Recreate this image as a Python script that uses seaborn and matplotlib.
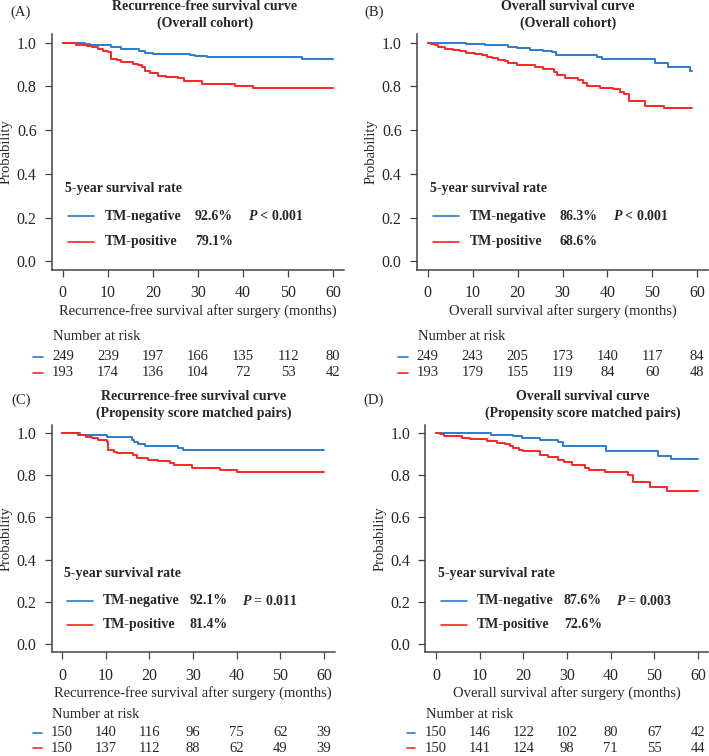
import numpy as np
import pandas as pd
import matplotlib
matplotlib.use("Agg")
import matplotlib.pyplot as plt
import matplotlib.transforms as mtrans
import seaborn as sb

# ---- step points (months, survival probability)
# (A) recurrence-free survival, overall cohort
a_neg_t = [0, 3.5, 4.9, 6, 10.8, 13, 17, 18.2, 20, 28.2, 29.3, 32, 53, 60]
a_neg_s = [1.0, 0.997, 0.994, 0.988, 0.979, 0.973, 0.964, 0.955, 0.949, 0.945, 0.939, 0.934, 0.926, 0.926]
a_pos_t = [0, 3, 5.3, 6.4, 7.9, 9, 10, 10.8, 12, 13, 15.6, 16.7, 17.5, 18.2, 19.3, 21.2, 23, 25.6, 27, 30.8, 38.2, 42.3, 60]
a_pos_s = [1.0, 0.991, 0.987, 0.979, 0.972, 0.964, 0.957, 0.924, 0.919, 0.912, 0.904, 0.897, 0.887, 0.870, 0.863, 0.849, 0.842, 0.837, 0.825, 0.813, 0.803, 0.791, 0.791]

# (B) overall survival, overall cohort
b_neg_t = [0, 8.6, 12.7, 17.9, 19.8, 22.8, 25.7, 27.6, 28.5, 37.6, 38.7, 50.6, 53.6, 58.4, 58.8]
b_neg_s = [1.0, 0.994, 0.988, 0.980, 0.975, 0.969, 0.963, 0.957, 0.945, 0.935, 0.925, 0.908, 0.889, 0.871, 0.871]
b_pos_t = [0, 0.8, 1.6, 2.3, 3.8, 5.7, 7.1, 8.6, 10.5, 12, 13.1, 14.2, 15.7, 17.2, 17.9, 19.8, 23.9, 25.7,
           28, 28.7, 30.6, 33.5, 34.6, 35.4, 38.4, 41.3, 42.8, 43.6, 44.7, 48.4, 52.5, 58.8]
b_pos_s = [1.0, 0.995, 0.988, 0.980, 0.972, 0.965, 0.960, 0.954, 0.948, 0.942, 0.937, 0.931, 0.923, 0.915, 0.908, 0.900,
           0.891, 0.880, 0.865, 0.852, 0.840, 0.831, 0.818, 0.803, 0.795, 0.788, 0.775, 0.765, 0.734, 0.711, 0.700, 0.700]

# (C) recurrence-free survival, matched pairs
c_neg_t = [0, 4.2, 10.2, 16, 16.5, 17.5, 19, 26.6, 27.6, 60]
c_neg_s = [1.0, 0.993, 0.979, 0.968, 0.957, 0.947, 0.939, 0.931, 0.921, 0.921]
c_pos_t = [0, 3.7, 5.6, 6.8, 8.3, 10.2, 10.6, 11.8, 12.5, 16.3, 17.1, 19.8, 22, 24.7, 25.7, 29.7, 36.2, 40, 60]
c_pos_s = [1.0, 0.991, 0.983, 0.975, 0.967, 0.959, 0.920, 0.912, 0.905, 0.897, 0.883, 0.873, 0.866, 0.858, 0.847, 0.836, 0.825, 0.814, 0.814]

# (D) overall survival, matched pairs
d_neg_t = [0, 12.7, 17.7, 19.6, 23.8, 28, 29, 38.9, 50.9, 53.7, 60]
d_neg_s = [1.0, 0.992, 0.984, 0.975, 0.967, 0.959, 0.938, 0.917, 0.889, 0.876, 0.876]
d_pos_t = [0, 0.9, 1.8, 5.9, 7.8, 11.6, 13.9, 15.8, 16.9, 17.7, 18.9, 20, 23.8, 25.7, 28, 29.2, 31.1, 34.1, 35.1, 38.7, 44, 45, 49, 53, 60]
d_pos_s = [1.0, 0.994, 0.986, 0.978, 0.970, 0.963, 0.955, 0.947, 0.938, 0.928, 0.920, 0.913, 0.897, 0.886, 0.873, 0.863,
           0.847, 0.836, 0.827, 0.813, 0.800, 0.766, 0.742, 0.726, 0.726]

# ---- number at risk
risk_times = [0, 10, 20, 30, 40, 50, 60]
a_risk_neg = [249, 239, 197, 166, 135, 112, 80]
a_risk_pos = [193, 174, 136, 104, 72, 53, 42]
b_risk_neg = [249, 243, 205, 173, 140, 117, 84]
b_risk_pos = [193, 179, 155, 119, 84, 60, 48]
c_risk_neg = [150, 140, 116, 96, 75, 62, 39]
c_risk_pos = [150, 137, 112, 88, 62, 49, 39]
d_risk_neg = [150, 146, 122, 102, 80, 67, 42]
d_risk_pos = [150, 141, 124, 98, 71, 55, 44]

# ---- text
titles = ["Recurrence-free survival curve\n(Overall cohort)",
          "Overall survival curve\n(Overall cohort)",
          "Recurrence-free survival curve\n(Propensity score matched pairs)",
          "Overall survival curve\n(Propensity score matched pairs)"]
panel_tags = ["(A)", "(B)", "(C)", "(D)"]
xlabels = ["Recurrence-free survival after surgery (months)",
           "Overall survival after surgery (months)",
           "Recurrence-free survival after surgery (months)",
           "Overall survival after surgery (months)"]
rate_neg = ["92.6%", "86.3%", "92.1%", "87.6%"]
rate_pos = ["79.1%", "68.6%", "81.4%", "72.6%"]
p_texts = [r"$\mathbfit{P}$ < 0.001", r"$\mathbfit{P}$ < 0.001", r"$\mathbfit{P}$ = 0.011", r"$\mathbfit{P}$ = 0.003"]

BLUE = "#2b7bcf"
RED = "#ff2424"

W, H = 709, 756

sb.set_style("ticks")
plt.rcParams["font.family"] = ["Liberation Serif"]
plt.rcParams["mathtext.fontset"] = "custom"
plt.rcParams["mathtext.bfit"] = "Liberation Serif:bold:italic"
plt.rcParams["mathtext.it"] = "Liberation Serif:italic"

fig = plt.figure(figsize=(W / 100, H / 100), dpi=100)


def fx(px):
    return px / W


def fy(py):
    return 1 - py / H


# panel geometry in pixels: axes box, title centre, tag pos, risk rows y, dash x
panels = [
    dict(box=(52, 34, 344, 270), tcx=205, tcy=(7, 23), tag=(21, 12), risk_y=(336, 357, 373), dash=(33, 43)),
    dict(box=(417, 34, 708, 270), tcx=568, tcy=(7, 23), tag=(374, 12), risk_y=(336, 357, 373), dash=(398, 408)),
    dict(box=(51.5, 424.6, 334.5, 652.4), tcx=194, tcy=(396, 413), tag=(21, 400), risk_y=(715, 733, 748), dash=(33, 42)),
    dict(box=(425.5, 424.6, 708.5, 652.4), tcx=583, tcy=(396, 413), tag=(374, 400), risk_y=(715, 733, 748), dash=(407, 415)),
]

curves = [(a_neg_t, a_neg_s, a_pos_t, a_pos_s),
          (b_neg_t, b_neg_s, b_pos_t, b_pos_s),
          (c_neg_t, c_neg_s, c_pos_t, c_pos_s),
          (d_neg_t, d_neg_s, d_pos_t, d_pos_s)]
risks = [(a_risk_neg, a_risk_pos), (b_risk_neg, b_risk_pos),
         (c_risk_neg, c_risk_pos), (d_risk_neg, d_risk_pos)]

FS = 10
TICK_FS = 11.5
RISK_FS = 10.5

for i, p in enumerate(panels):
    l, t, r, b = p["box"]
    ax = fig.add_axes([fx(l), fy(b), (r - l) / W, (b - t) / H])
    nt, ns, pt, ps = curves[i]
    df = pd.concat([
        pd.DataFrame({"time": nt, "surv": ns, "group": "TM-negative"}),
        pd.DataFrame({"time": pt, "surv": ps, "group": "TM-positive"}),
    ])
    sb.lineplot(data=df, x="time", y="surv", hue="group", palette=[BLUE, RED],
                estimator=None, sort=False, drawstyle="steps-post", lw=1.4,
                legend=False, ax=ax)

    ax.set_xlim(-2.4, 62.4)
    ax.set_ylim(-0.04, 1.04)
    ax.set_xticks(risk_times)
    ax.set_yticks([0, 0.2, 0.4, 0.6, 0.8, 1.0])
    ax.set_yticklabels(["0.0", "0.2", "0.4", "0.6", "0.8", "1.0"])
    ax.tick_params(labelsize=TICK_FS, length=5, width=0.9, color="#444444", pad=6)
    for s in ["top", "right"]:
        ax.spines[s].set_visible(False)
    for s in ["left", "bottom"]:
        ax.spines[s].set_color("#444444")
        ax.spines[s].set_linewidth(1.1)
    ax.set_xlabel(xlabels[i], fontsize=FS + 0.5, labelpad=2)
    ax.set_ylabel("Probability", fontsize=FS + 0.5, labelpad=3)

    # in-plot legend
    ax.text(0.4, 0.335, "5-year survival rate", fontsize=FS, fontweight="bold", va="center")
    ax.plot([1.1, 7.0], [0.205, 0.205], color=BLUE, lw=1.2)
    ax.plot([1.1, 7.0], [0.09, 0.09], color=RED, lw=1.2)
    ax.text(9.3, 0.205, "TM-negative", fontsize=FS, fontweight="bold", va="center")
    ax.text(9.3, 0.09, "TM-positive", fontsize=FS, fontweight="bold", va="center")
    ax.text(29.3, 0.205, rate_neg[i], fontsize=FS, fontweight="bold", va="center")
    ax.text(29.3, 0.09, rate_pos[i], fontsize=FS, fontweight="bold", va="center")
    ax.text(41.2, 0.205, p_texts[i], fontsize=FS, fontweight="bold", va="center")

    # titles and tags
    fig.text(fx(p["tcx"]), fy(p["tcy"][0]), titles[i].split("\n")[0], fontsize=FS,
             fontweight="bold", ha="center", va="center")
    fig.text(fx(p["tcx"]), fy(p["tcy"][1]), titles[i].split("\n")[1], fontsize=FS,
             fontweight="bold", ha="center", va="center")
    fig.text(fx(p["tag"][0]), fy(p["tag"][1]), panel_tags[i], fontsize=FS + 0.5, ha="center", va="center")

    # number at risk table
    tr = mtrans.blended_transform_factory(ax.transData, fig.transFigure)
    ry = p["risk_y"]
    fig.text(fx(l + 1), fy(ry[0]), "Number at risk", fontsize=FS + 0.5, va="center")
    rn, rp = risks[i]
    for k, tm in enumerate(risk_times):
        ax.text(tm, fy(ry[1]), str(rn[k]), fontsize=RISK_FS, ha="center", va="center", transform=tr, clip_on=False)
        ax.text(tm, fy(ry[2]), str(rp[k]), fontsize=RISK_FS, ha="center", va="center", transform=tr, clip_on=False)
    d0, d1 = p["dash"]
    fig.add_artist(plt.Line2D([fx(d0), fx(d1)], [fy(ry[1]), fy(ry[1])], color=BLUE, lw=1.2))
    fig.add_artist(plt.Line2D([fx(d0), fx(d1)], [fy(ry[2]), fy(ry[2])], color=RED, lw=1.2))

plt.savefig("out.png", dpi=100)
plt.close()
